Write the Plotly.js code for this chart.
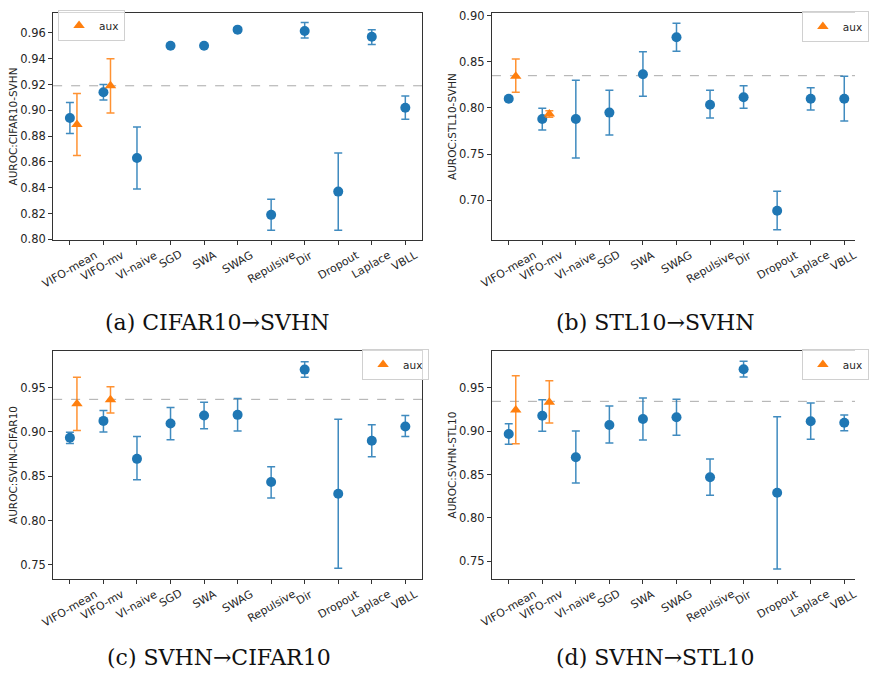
<!DOCTYPE html>
<html><head><meta charset="utf-8">
<script src="https://cdn.plot.ly/plotly-3.0.1.min.js"></script>
<style>html,body{margin:0;padding:0;background:#fff}#chart{width:869px;height:675px}</style>
</head><body><div id="chart"></div>
<script>
const categories = ["VIFO-mean","VIFO-mv","VI-naive","SGD","SWA","SWAG","Repulsive","Dir","Dropout","Laplace","VBLL"];
const auxCategories = ["VIFO-mean","VIFO-mv"];

// (a) CIFAR10 -> SVHN
const aMean = [0.894,0.914,0.863,0.950,0.950,0.9625,0.819,0.9615,0.837,0.957,0.902];
const aHi   = [0.906,0.920,0.887,0.951,0.951,0.964,0.831,0.968,0.867,0.9625,0.911];
const aLo   = [0.882,0.908,0.839,0.949,0.949,0.961,0.807,0.956,0.807,0.951,0.893];
const aAuxMean = [0.889,0.919], aAuxHi = [0.913,0.940], aAuxLo = [0.865,0.898];
const aRef = 0.919;

// (b) STL10 -> SVHN
const bMean = [0.810,0.788,0.788,0.795,0.8365,0.8766,0.8036,0.8116,0.6887,0.810,0.810];
const bHi   = [0.812,0.7997,0.830,0.8192,0.861,0.8918,0.8192,0.8242,0.7097,0.822,0.8343];
const bLo   = [0.808,0.7762,0.7458,0.7707,0.8127,0.8614,0.7892,0.7997,0.6682,0.7978,0.7859];
const bAuxMean = [0.8343,0.7935], bAuxHi = [0.853,0.797], bAuxLo = [0.817,0.790];
const bRef = 0.835;

// (c) SVHN -> CIFAR10
const cMean = [0.8934,0.9125,0.8697,0.9095,0.9185,0.9193,0.8435,0.9703,0.8303,0.890,0.9061];
const cHi   = [0.8998,0.9241,0.8948,0.9275,0.9335,0.9376,0.8607,0.9793,0.9144,0.908,0.9185];
const cLo   = [0.887,0.9001,0.8461,0.8911,0.9035,0.9012,0.8255,0.9617,0.7462,0.872,0.8948];
const cAuxMean = [0.9317,0.9363], cAuxHi = [0.9617,0.9511], cAuxLo = [0.9016,0.9215];
const cRef = 0.9368;

// (d) SVHN -> STL10
const dMean = [0.8967,0.9177,0.8698,0.907,0.914,0.9159,0.8468,0.9712,0.829,0.9113,0.9097];
const dHi   = [0.9085,0.9362,0.9001,0.9289,0.9381,0.9366,0.8679,0.9804,0.9166,0.9324,0.9185];
const dLo   = [0.8848,0.8998,0.8402,0.8863,0.8897,0.8952,0.826,0.9623,0.7411,0.8906,0.9005];
const dAuxMean = [0.9243,0.9332], dAuxHi = [0.9638,0.958], dAuxLo = [0.8855,0.9093];
const dRef = 0.9343;

const yTitles = ["AUROC:CIFAR10-SVHN","AUROC:STL10-SVHN","AUROC:SVHN-CIFAR10","AUROC:SVHN-STL10"];
const captions = ["(a) CIFAR10\u2192SVHN","(b) STL10\u2192SVHN","(c) SVHN\u2192CIFAR10","(d) SVHN\u2192STL10"];
const yTickVals = [
  [0.80,0.82,0.84,0.86,0.88,0.90,0.92,0.94,0.96],
  [0.70,0.75,0.80,0.85,0.90],
  [0.75,0.80,0.85,0.90,0.95],
  [0.75,0.80,0.85,0.90,0.95]
];

const BLUE = "#1f77b4", ORANGE = "#ff7f0e";
const panels = [
  {mean:aMean,hi:aHi,lo:aLo,am:aAuxMean,ah:aAuxHi,al:aAuxLo,ref:aRef},
  {mean:bMean,hi:bHi,lo:bLo,am:bAuxMean,ah:bAuxHi,al:bAuxLo,ref:bRef},
  {mean:cMean,hi:cHi,lo:cLo,am:cAuxMean,ah:cAuxHi,al:cAuxLo,ref:cRef},
  {mean:dMean,hi:dHi,lo:dLo,am:dAuxMean,ah:dAuxHi,al:dAuxLo,ref:dRef}
];

const W = 869, H = 675;
const geo = [
  {x0:54,x1:429,y0:13,y1:240, xr:[-0.5,10.5], yr:[0.7995,0.9754], lx:59, ly:25.5, mirrorY:true},
  {x0:500,x1:869,y0:13,y1:240, xr:[-0.5,10.32], yr:[0.657,0.9029], lx:815, ly:26.5, mirrorY:false},
  {x0:54,x1:429,y0:351,y1:579, xr:[-0.5,10.5], yr:[0.7342,0.9913], lx:368, ly:364.5, mirrorY:true},
  {x0:500,x1:869,y0:351,y1:579, xr:[-0.5,10.32], yr:[0.7296,0.9923], lx:815, ly:364.5, mirrorY:false}
];
const capPos = [[221,322],[666,322],[223,657],[666,657]];

const AUX_OFFSET = 0.21;
const traces = [];
const layout = {
  width:W, height:H, margin:{l:0,r:0,t:0,b:0},
  paper_bgcolor:"#fff", plot_bgcolor:"#fff",
  font:{family:"DejaVu Sans", size:10, color:"#262626"},
  shapes:[], annotations:[]
};

panels.forEach((p,i)=>{
  const n = i+1;
  const xa = "x"+(n===1?"":n), ya = "y"+(n===1?"":n);
  const xIdx = categories.map((c,k)=>k);
  const auxIdx = auxCategories.map(c=>categories.indexOf(c)+AUX_OFFSET);
  const lg = n===1 ? "legend" : "legend"+n;
  traces.push({
    type:"scatter", mode:"markers", x:xIdx, y:p.mean, xaxis:xa, yaxis:ya,
    showlegend:false,
    marker:{color:BLUE, size:10, symbol:"circle"},
    error_y:{type:"data", symmetric:false,
      array:p.mean.map((m,k)=>p.hi[k]-m), arrayminus:p.mean.map((m,k)=>m-p.lo[k]),
      color:"rgba(31,119,180,0.85)", thickness:1.5, width:4}
  });
  traces.push({
    type:"scatter", mode:"markers", x:auxIdx, y:p.am, xaxis:xa, yaxis:ya,
    name:"aux", legend:lg, showlegend:true,
    marker:{color:ORANGE, size:10, symbol:"triangle-up"},
    error_y:{type:"data", symmetric:false,
      array:p.am.map((m,k)=>p.ah[k]-m), arrayminus:p.am.map((m,k)=>m-p.al[k]),
      color:"rgba(255,127,14,0.85)", thickness:1.5, width:4}
  });
  const g = geo[i];
  const axX = "xaxis"+(n===1?"":n), axY = "yaxis"+(n===1?"":n);
  layout[axX] = {
    domain:[g.x0/W, g.x1/W], range:g.xr, anchor:ya,
    tickmode:"array", tickvals:categories.map((c,k)=>k), ticktext:categories,
    showticklabels:false, ticks:"outside", ticklen:4, tickcolor:"#333",
    showline:true, linecolor:"#333", linewidth:1, mirror:true,
    showgrid:false, zeroline:false
  };
  // category labels, rotated 30deg and centred under each tick (matplotlib style)
  categories.forEach((c,k)=>{
    layout.annotations.push({xref:xa, yref:"paper", x:k, y:1-(g.y1+7)/H,
      xanchor:"center", yanchor:"top", showarrow:false, text:c, textangle:-30,
      borderpad:0, font:{size:11, color:"#262626"}});
  });
  layout[axY] = {
    domain:[1-g.y1/H, 1-g.y0/H], range:g.yr, anchor:xa,
    tickmode:"array", tickvals:yTickVals[i], ticktext:yTickVals[i].map(v=>v.toFixed(2)),
    ticks:"outside", ticklen:4, tickcolor:"#333",
    showline:true, linecolor:"#333", linewidth:1, mirror:g.mirrorY,
    showgrid:false, zeroline:false, tickfont:{size:11.5, color:"#262626"},
    title:{text:yTitles[i], font:{size:10.5, color:"#262626"}, standoff:0}
  };
  layout.shapes.push({type:"line", xref:xa+" domain", yref:ya, x0:0, x1:1, y0:p.ref, y1:p.ref,
    line:{color:"#aaaaaa", width:1, dash:"dash"}, layer:"below"});
  layout[lg] = {x:g.lx/W, y:1-g.ly/H, xanchor:"left", yanchor:"middle",
    bgcolor:"rgba(255,255,255,0.8)", bordercolor:"#d0d0d0", borderwidth:1,
    font:{size:10.5, color:"#262626"}, itemwidth:30};
  layout.annotations.push({xref:"paper", yref:"paper", x:capPos[i][0]/W, y:1-capPos[i][1]/H,
    xanchor:"center", yanchor:"middle", showarrow:false, text:captions[i],
    font:{family:"DejaVu Serif, Liberation Serif, serif", size:22, color:"#111"}});
});

Plotly.newPlot("chart", traces, layout, {displayModeBar:false, staticPlot:true});
</script>
</body></html>
